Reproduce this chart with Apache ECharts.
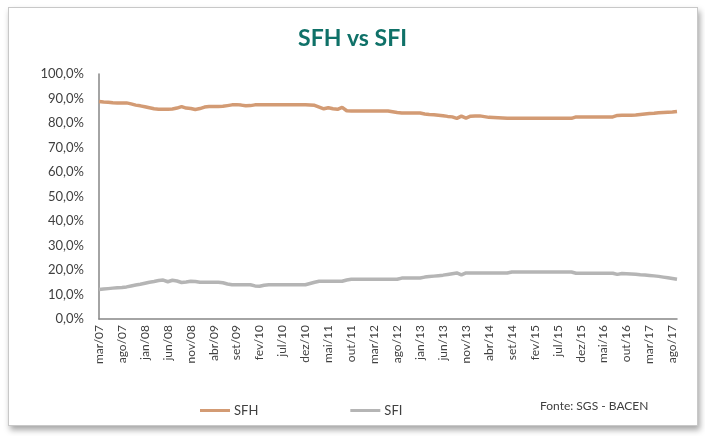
<!DOCTYPE html>
<html>
<head>
<meta charset="utf-8">
<script src="https://cdn.jsdelivr.net/npm/echarts@6/dist/echarts.min.js"></script>
<style>
  html, body { margin: 0; padding: 0; background: #fff; }
  #frame {
    position: absolute; left: 8px; top: 7px; width: 688px; height: 417px;
    border: 1px solid #c8c8c8; box-shadow: 2px 4px 6px rgba(0,0,0,0.35); background: #fff;
  }
  #chart { position: absolute; left: 0; top: 0; width: 705px; height: 436px; }
</style>
</head>
<body>
<div id="frame"></div>
<div id="chart"></div>
<script>
// meses de mar/07 a set/17
var mesesNomes = ['jan','fev','mar','abr','mai','jun','jul','ago','set','out','nov','dez'];
var categorias = [];
for (var a = 2007; a <= 2017; a++) {
  for (var m = 0; m < 12; m++) {
    if (a === 2007 && m < 2) continue;
    if (a === 2017 && m > 8) continue;
    categorias.push(mesesNomes[m] + '/' + String(a).slice(2));
  }
}

// participação (%)
var sfh = [
  88.8, 88.6, 88.5, 88.3, 88.2, 88.2, 88.2, 87.8, 87.3, 87.0,
  86.6, 86.2, 85.8, 85.6, 85.6, 85.6, 85.7, 86.1, 86.7, 86.1,
  85.9, 85.5, 85.9, 86.5, 86.7, 86.7, 86.7, 86.8, 87.1, 87.4,
  87.5, 87.3, 87.0, 87.1, 87.4, 87.5, 87.5, 87.5, 87.5, 87.5,
  87.5, 87.5, 87.5, 87.5, 87.5, 87.4, 87.3, 87.2, 86.5, 85.8,
  86.2, 85.8, 85.6, 86.4, 85.0, 84.9, 84.9, 84.9, 84.9, 84.9,
  84.9, 84.9, 84.9, 84.9, 84.6, 84.3, 84.1, 84.1, 84.1, 84.1,
  84.1, 83.7, 83.5, 83.4, 83.2, 83.0, 82.7, 82.5, 81.9, 82.8,
  82.0, 82.8, 82.9, 82.9, 82.6, 82.3, 82.2, 82.1, 82.0, 81.9,
  81.9, 81.9, 81.9, 81.9, 81.9, 81.9, 81.9, 81.9, 81.9, 81.9,
  81.9, 81.9, 81.9, 81.9, 82.5, 82.5, 82.5, 82.5, 82.5, 82.5,
  82.5, 82.5, 82.5, 83.1, 83.2, 83.2, 83.2, 83.3, 83.5, 83.7,
  83.9, 84.0, 84.2, 84.3, 84.4, 84.5, 84.7
];
var sfi = [
  12.0, 12.2, 12.4, 12.6, 12.8, 12.9, 13.1, 13.5, 13.9, 14.2,
  14.6, 15.0, 15.3, 15.7, 15.9, 15.2, 15.8, 15.5, 14.9, 15.1,
  15.4, 15.3, 15.0, 15.0, 15.0, 15.0, 15.0, 14.8, 14.3, 14.0,
  14.0, 14.0, 14.0, 14.0, 13.5, 13.4, 13.8, 14.0, 14.0, 14.0,
  14.0, 14.0, 14.0, 14.0, 14.0, 14.0, 14.5, 15.0, 15.4, 15.4,
  15.4, 15.4, 15.4, 15.4, 15.9, 16.2, 16.2, 16.2, 16.2, 16.2,
  16.2, 16.2, 16.2, 16.2, 16.2, 16.2, 16.7, 16.7, 16.7, 16.7,
  16.7, 17.1, 17.3, 17.5, 17.7, 17.9, 18.2, 18.5, 18.8, 18.0,
  18.8, 18.8, 18.8, 18.8, 18.8, 18.8, 18.8, 18.8, 18.8, 18.8,
  19.2, 19.2, 19.2, 19.2, 19.2, 19.2, 19.2, 19.2, 19.2, 19.2,
  19.2, 19.2, 19.2, 19.2, 18.7, 18.7, 18.7, 18.7, 18.7, 18.7,
  18.7, 18.7, 18.7, 18.2, 18.6, 18.5, 18.4, 18.3, 18.1, 18.0,
  17.8, 17.6, 17.4, 17.1, 16.8, 16.5, 16.2
];

var chart = echarts.init(document.getElementById('chart'), null, { renderer: 'canvas' });

var fonte = 'Lato, "Open Sans", sans-serif';

var option = {
  animation: false,
  color: ['#d39b74', '#b5b5b5'],
  title: {
    text: 'SFH vs SFI',
    left: 'center',
    top: 22,
    textStyle: { color: '#0f7168', fontSize: 23, fontWeight: 'bold', fontFamily: fonte }
  },
  grid: { left: 99, right: 28, top: 74, bottom: 117, containLabel: false },
  legend: {
    left: 195,
    top: 399,
    itemWidth: 30,
    itemHeight: 3,
    itemGap: 92,
    icon: 'rect',
    textStyle: { color: '#404040', fontSize: 13, fontFamily: fonte, padding: [0, 0, 0, -1] },
    data: ['SFH', 'SFI']
  },
  graphic: [{
    type: 'text',
    left: 540,
    top: 400,
    style: { text: 'Fonte: SGS - BACEN', fill: '#404040', font: '12px ' + fonte }
  }],
  xAxis: {
    type: 'category',
    data: categorias,
    boundaryGap: false,
    axisLine: { lineStyle: { color: '#868686', width: 1.5 } },
    axisTick: { show: false },
    axisLabel: {
      interval: 4,
      rotate: 90,
      margin: 6,
      color: '#404040',
      fontSize: 12,
      fontFamily: fonte
    },
    splitLine: { show: false }
  },
  yAxis: {
    type: 'value',
    min: 0,
    max: 100,
    interval: 10,
    axisLine: { show: true, lineStyle: { color: '#868686', width: 1.5 } },
    axisTick: { show: false },
    splitLine: { show: false },
    axisLabel: {
      margin: 15,
      color: '#404040',
      fontSize: 13,
      fontFamily: fonte,
      formatter: function (v) { return v.toFixed(1).replace('.', ',') + '%'; }
    }
  },
  series: [
    { name: 'SFH', type: 'line', data: sfh, showSymbol: false, lineStyle: { width: 3.5 } },
    { name: 'SFI', type: 'line', data: sfi, showSymbol: false, lineStyle: { width: 3.5 } }
  ]
};

chart.setOption(option);
</script>
</body>
</html>
